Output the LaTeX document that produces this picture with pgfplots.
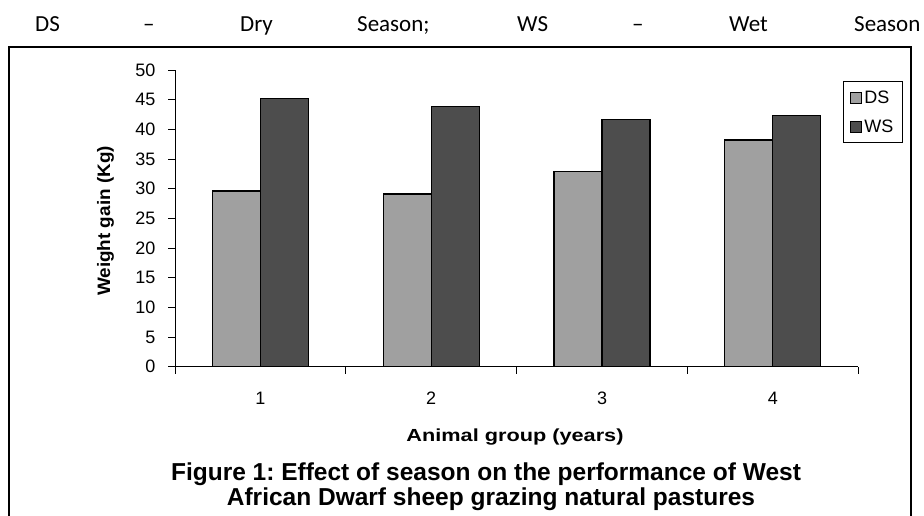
\documentclass[border=0pt]{standalone}
\usepackage{fontspec}
\setmainfont{Liberation Sans}
\newfontfamily\carlito{Carlito}
\usepackage{graphicx}
\usepackage{pgfplots}
\pgfplotsset{compat=1.18}
\definecolor{dsgray}{HTML}{A0A0A0}
\definecolor{wsgray}{HTML}{4D4D4D}
\begin{document}
\frenchspacing
\begin{tikzpicture}[x=1pt,y=1pt]
\useasboundingbox (0,0) rectangle (924,-515);
% note line above the figure
\foreach \xx/\w in {35/DS, 143/–, 240/Dry, 357/{Season;}, 517/WS, 632/–, 729/Wet, 854/Season}
  \node[anchor=base west, inner sep=0, font=\carlito\fontsize{23}{27}\selectfont] at (\xx,-31) {\w};
% frame
\draw[line width=2.5pt] (9,-47) rectangle (911,-540);
\begin{axis}[
  at={(175pt,-366.7pt)}, anchor=south west,
  scale only axis, width=683.3pt, height=296.7pt,
  ymin=0, ymax=50, xmin=0.5, xmax=4.5,
  axis lines*=left,
  axis line style={-, line width=1pt},
  every tick/.style={black, line width=1pt},
  tick align=outside,
  major tick length=7pt,
  ytick={0,5,...,50},
  xtick={0.5,1.5,2.5,3.5,4.5},
  xticklabels={},
  extra x ticks={1,2,3,4},
  extra x tick labels={1,2,3,4},
  extra x tick style={major tick length=0pt, tick label style={yshift=-22pt}},
  /pgf/number format/assume math mode=true,
  tick label style={font=\fontsize{18}{20}\selectfont},
  yticklabel style={xshift=-9pt},
  ybar=0pt, bar width=48pt,
  legend style={at={(1.0654,0.9629)}, anchor=north east, draw=black, line width=1.2pt,
    font=\fontsize{18}{20}\selectfont, inner xsep=7pt, inner ysep=7pt, row sep=11pt,
    /tikz/every even column/.append style={column sep=1pt}},
  legend cell align=left,
  legend image code/.code={\draw[#1, line width=1.2pt] (0pt,-5.5pt) rectangle (11pt,5.5pt);},
]
\addplot[fill=dsgray, draw=black, line width=1.2pt] coordinates {(1,29.6) (2,29.1) (3,32.9) (4,38.2)};
\addplot[fill=wsgray, draw=black, line width=1.2pt] coordinates {(1,45.2) (2,43.9) (3,41.7) (4,42.3)};
\legend{DS,WS}
\end{axis}
\node[anchor=base, inner sep=0, font=\bfseries\fontsize{17.5}{20}\selectfont] at (515,-441.7) {\scalebox{1.24}[1]{Animal group (years)}};
\node[anchor=base, inner sep=0, rotate=90, font=\bfseries\fontsize{18}{20}\selectfont] at (110,-221) {\scalebox{1.05}[1]{Weight gain (Kg)}};
\node[anchor=base, inner sep=0, font=\bfseries\fontsize{24.5}{26}\selectfont] at (486,-480) {Figure 1: Effect of season on the performance of West};
\node[anchor=base, inner sep=0, font=\bfseries\fontsize{24.5}{26}\selectfont] at (491,-505) {African Dwarf sheep grazing natural pastures};
\end{tikzpicture}
\end{document}
